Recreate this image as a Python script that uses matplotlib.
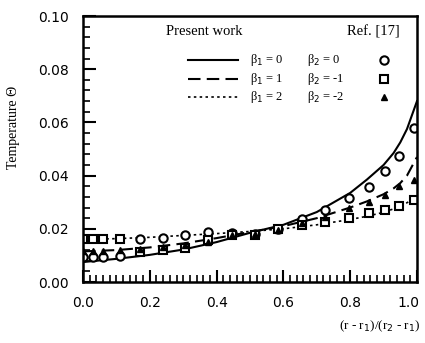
import numpy as np
import matplotlib
matplotlib.use("Agg")
import matplotlib.pyplot as plt
from matplotlib.ticker import MultipleLocator
from matplotlib.transforms import ScaledTranslation

# present work curves
x_curve = [0.0, 0.1, 0.2, 0.3, 0.4, 0.5, 0.6, 0.7, 0.8, 0.85, 0.9, 0.93, 0.95, 0.97, 1.0]
solid_y = [0.0075, 0.0087, 0.0102, 0.0122, 0.0150, 0.0185, 0.0215, 0.0263, 0.0335, 0.0385, 0.0440,
           0.0485, 0.0525, 0.0575, 0.0680]
dashed_y = [0.0115, 0.0120, 0.0130, 0.0145, 0.0165, 0.0188, 0.0210, 0.0240, 0.0280, 0.0303, 0.0330,
            0.0352, 0.0372, 0.0400, 0.0470]
dotted_y = [0.0160, 0.0163, 0.0168, 0.0175, 0.0182, 0.0190, 0.0200, 0.0215, 0.0235, 0.0247, 0.0262,
            0.0275, 0.0285, 0.0298, 0.0320]

# Ref. [17] points
x_ref = [0.0, 0.03, 0.06, 0.11, 0.17, 0.24, 0.305, 0.375, 0.445, 0.515, 0.585,
         0.655, 0.725, 0.795, 0.855, 0.905, 0.945, 0.99]
circ_y = [0.0094, 0.0094, 0.0094, 0.0096, 0.0160, 0.0165, 0.0177, 0.0188, 0.0186, 0.0180, 0.0200,
          0.0237, 0.0270, 0.0316, 0.0357, 0.0417, 0.0474, 0.0580]
sq_y = [0.0163, 0.0163, 0.0163, 0.0163, 0.0113, 0.0120, 0.0128, 0.0158, 0.0177, 0.0177, 0.0199,
        0.0214, 0.0226, 0.0240, 0.0260, 0.0270, 0.0285, 0.0310]
tri_y = [0.0118, 0.0118, 0.0118, 0.0120, 0.0125, 0.0130, 0.0138, 0.0150, 0.0175, 0.0180, 0.0195,
         0.0220, 0.0245, 0.0278, 0.0300, 0.0327, 0.0360, 0.0383]

beta1 = ["0", "1", "2"]
beta2 = ["0", "-1", "-2"]

xticks = [0.0, 0.2, 0.4, 0.6, 0.8, 1.0]
xtick_labels = ["0.0", "0.2", "0.4", "0.6", "0.8", "1.0"]
yticks = [0.00, 0.02, 0.04, 0.06, 0.08, 0.10]
ytick_labels = ["0.00", "0.02", "0.04", "0.06", "0.08", "0.10"]

fig = plt.figure(figsize=(4.25, 3.43), dpi=100)
ax = fig.add_axes([83 / 425, 61 / 343, 334 / 425, 266 / 343])

ax.plot(x_curve, solid_y, color="black", lw=1.5, ls="-")
ax.plot(x_curve, dashed_y, color="black", lw=1.5, ls=(0, (6, 3)))
ax.plot(x_curve, dotted_y, color="black", lw=1.2, ls=(0, (1.5, 2)))

ax.plot(x_ref, circ_y, ls="none", marker="o", ms=6, mfc="white", mec="black", mew=1.5)
ax.plot(x_ref, sq_y, ls="none", marker="s", ms=5.5, mfc="white", mec="black", mew=1.5)
ax.plot(x_ref, tri_y, ls="none", marker="^", ms=4, mfc="black", mec="black")

ax.set_xlim(0, 1.0)
ax.set_ylim(0, 0.10)
ax.set_xticks(xticks)
ax.set_xticklabels(xtick_labels)
ax.set_yticks(yticks)
ax.set_yticklabels(ytick_labels)
ax.xaxis.set_minor_locator(MultipleLocator(0.02))
ax.yaxis.set_minor_locator(MultipleLocator(0.004))
ax.tick_params(which="major", direction="in", length=9, width=1.5, labelsize=10)
ax.tick_params(which="minor", direction="in", length=5, width=1.2)
ax.tick_params(axis="x", pad=10)
ax.tick_params(axis="y", pad=10)
for s in ax.spines.values():
    s.set_linewidth(1.8)

# keep the last x tick label inside the figure
last = ax.get_xticklabels()[-1]
last.set_transform(last.get_transform() + ScaledTranslation(-6 / 72, 0, fig.dpi_scale_trans))

ax.set_ylabel("Temperature \u0398", family="Liberation Serif", fontsize=10)
ax.yaxis.set_label_coords(-0.19, 0.58)
ax.text(1.01, -0.165, "(r - r$_1$)/(r$_2$ - r$_1$)", transform=ax.transAxes,
        ha="right", va="center", family="Liberation Serif", fontsize=9.5)

# legend drawn by hand
tr = ax.transAxes
ax.text(0.25, 0.94, "Present work", transform=tr, family="Liberation Serif", fontsize=10.5, va="center")
ax.text(0.79, 0.94, "Ref. [17]", transform=tr, family="Liberation Serif", fontsize=10.5, va="center")
rows_y = [0.835, 0.765, 0.695]
styles = [dict(ls="-", lw=1.5), dict(ls=(0, (6, 3)), lw=1.5), dict(ls=(0, (1.5, 2)), lw=1.2)]
marks = [dict(marker="o", ms=6, mfc="white", mew=1.5), dict(marker="s", ms=5.5, mfc="white", mew=1.5),
         dict(marker="^", ms=4, mfc="black")]
for i in range(3):
    ax.plot([0.315, 0.465], [rows_y[i], rows_y[i]], transform=tr, color="black", **styles[i])
    ax.text(0.50, rows_y[i], "\u03b2$_1$ = " + beta1[i], transform=tr, family="Liberation Serif",
            fontsize=9, va="center")
    ax.text(0.67, rows_y[i], "\u03b2$_2$ = " + beta2[i], transform=tr, family="Liberation Serif",
            fontsize=9, va="center")
    ax.plot([0.90], [rows_y[i]], transform=tr, ls="none", mec="black", color="black", **marks[i])

fig.savefig("out.png", dpi=100)
